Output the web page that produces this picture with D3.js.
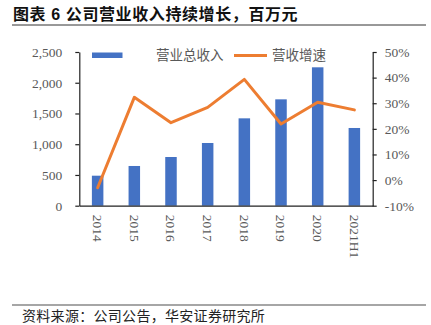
<!DOCTYPE html>
<html>
<head>
<meta charset="utf-8">
<script src="https://cdn.jsdelivr.net/npm/d3@7"></script>
<style>
  html, body { margin: 0; padding: 0; background: #fff; }
  svg { display: block; }
</style>
</head>
<body>
<svg id="chart" width="431" height="325"></svg>
<script>
// Revenue (million CNY) and year-over-year growth
const categories = ["2014", "2015", "2016", "2017", "2018", "2019", "2020", "2021H1"];
const revenue = [488, 646, 792, 1020, 1421, 1730, 2251, 1264];
const growth = [-3.0, 32.3, 22.4, 28.4, 39.3, 21.9, 30.4, 27.4];
const leftTicks = [0, 500, 1000, 1500, 2000, 2500];
const rightTicks = [-10, 0, 10, 20, 30, 40, 50];

const svg = d3.select("#chart");
const serif = "'Liberation Serif', 'Times New Roman', serif";
const cjk = "'Noto Sans CJK SC', sans-serif";
const grey = "#595959";

const m = { left: 79.3, right: 372.7, top: 52, bottom: 205.7 };

const x = d3.scaleBand().domain(categories).range([m.left, m.right]).paddingInner(0).paddingOuter(0);
const yL = d3.scaleLinear().domain([0, 2500]).range([m.bottom, m.top]);
const yR = d3.scaleLinear().domain([-10, 50]).range([m.bottom, m.top]);

// Title and rules
const title = svg.append("text").attr("x", 13).attr("y", 19.5)
  .attr("font-family", cjk).attr("font-weight", "bold").attr("font-size", 16)
  .attr("letter-spacing", 0.6).attr("fill", "#111");
title.append("tspan").text("图表");
title.append("tspan").attr("font-family", "'Liberation Sans', Arial, sans-serif").text(" 6 ");
title.append("tspan").text("公司营业收入持续增长，百万元");
svg.append("line").attr("x1", 12).attr("x2", 426).attr("y1", 25).attr("y2", 25)
  .attr("stroke", "#333").attr("stroke-width", 1);
svg.append("line").attr("x1", 12).attr("x2", 426).attr("y1", 305).attr("y2", 305)
  .attr("stroke", "#888").attr("stroke-width", 1.5);
svg.append("text").attr("x", 22).attr("y", 321)
  .attr("font-family", cjk).attr("font-size", 14).attr("letter-spacing", 0.3).attr("fill", "#222")
  .text("资料来源：公司公告，华安证券研究所");

// Bars
const bw = 11.5;
svg.append("g").selectAll("rect").data(categories).join("rect")
  .attr("x", (d) => x(d) + x.bandwidth() / 2 - bw / 2)
  .attr("width", bw)
  .attr("y", (d, i) => yL(revenue[i]))
  .attr("height", (d, i) => yL(0) - yL(revenue[i]))
  .attr("fill", "#4472C4");

// Growth line
const line = d3.line()
  .x((d, i) => x(categories[i]) + x.bandwidth() / 2)
  .y((d) => yR(d));
svg.append("path").datum(growth).attr("d", line)
  .attr("fill", "none").attr("stroke", "#ED7D31").attr("stroke-width", 3)
  .attr("stroke-linejoin", "round").attr("stroke-linecap", "round");

// Axes
function styleAxis(g) {
  g.selectAll("path.domain").attr("stroke", "#222").attr("stroke-width", 1.2);
  g.selectAll(".tick line").attr("stroke", "#222").attr("stroke-width", 1.2);
  g.selectAll("text").attr("font-family", serif).attr("font-size", 13.5).attr("fill", grey);
}

const gL = svg.append("g").attr("transform", `translate(${m.left},0)`)
  .call(d3.axisLeft(yL).tickValues(leftTicks).tickSize(4).tickPadding(13).tickSizeOuter(0)
    .tickFormat(d3.format(",")));
styleAxis(gL);

const gR = svg.append("g").attr("transform", `translate(${m.right},0)`)
  .call(d3.axisRight(yR).tickValues(rightTicks).tickSize(4).tickPadding(8).tickSizeOuter(0)
    .tickFormat((d) => d + "%"));
styleAxis(gR);

const gX = svg.append("g").attr("transform", `translate(0,${m.bottom})`)
  .call(d3.axisBottom(x).tickSize(0).tickSizeOuter(0));
styleAxis(gX);
gX.selectAll(".tick text")
  .attr("transform", "rotate(90)")
  .attr("text-anchor", "start")
  .attr("x", 9).attr("y", 0).attr("dy", "0.35em");

// Legend
const lg = svg.append("g");
lg.append("rect").attr("x", 92).attr("y", 52.5).attr("width", 30.5).attr("height", 5.5).attr("fill", "#4472C4");
lg.append("text").attr("x", 156).attr("y", 55).attr("dy", "0.36em")
  .attr("font-family", cjk).attr("font-size", 13.5).attr("fill", grey).text("营业总收入");
lg.append("line").attr("x1", 234).attr("x2", 267).attr("y1", 55.5).attr("y2", 55.5)
  .attr("stroke", "#ED7D31").attr("stroke-width", 3);
lg.append("text").attr("x", 272).attr("y", 55).attr("dy", "0.36em")
  .attr("font-family", cjk).attr("font-size", 13.5).attr("fill", grey).text("营收增速");
</script>
</body>
</html>
